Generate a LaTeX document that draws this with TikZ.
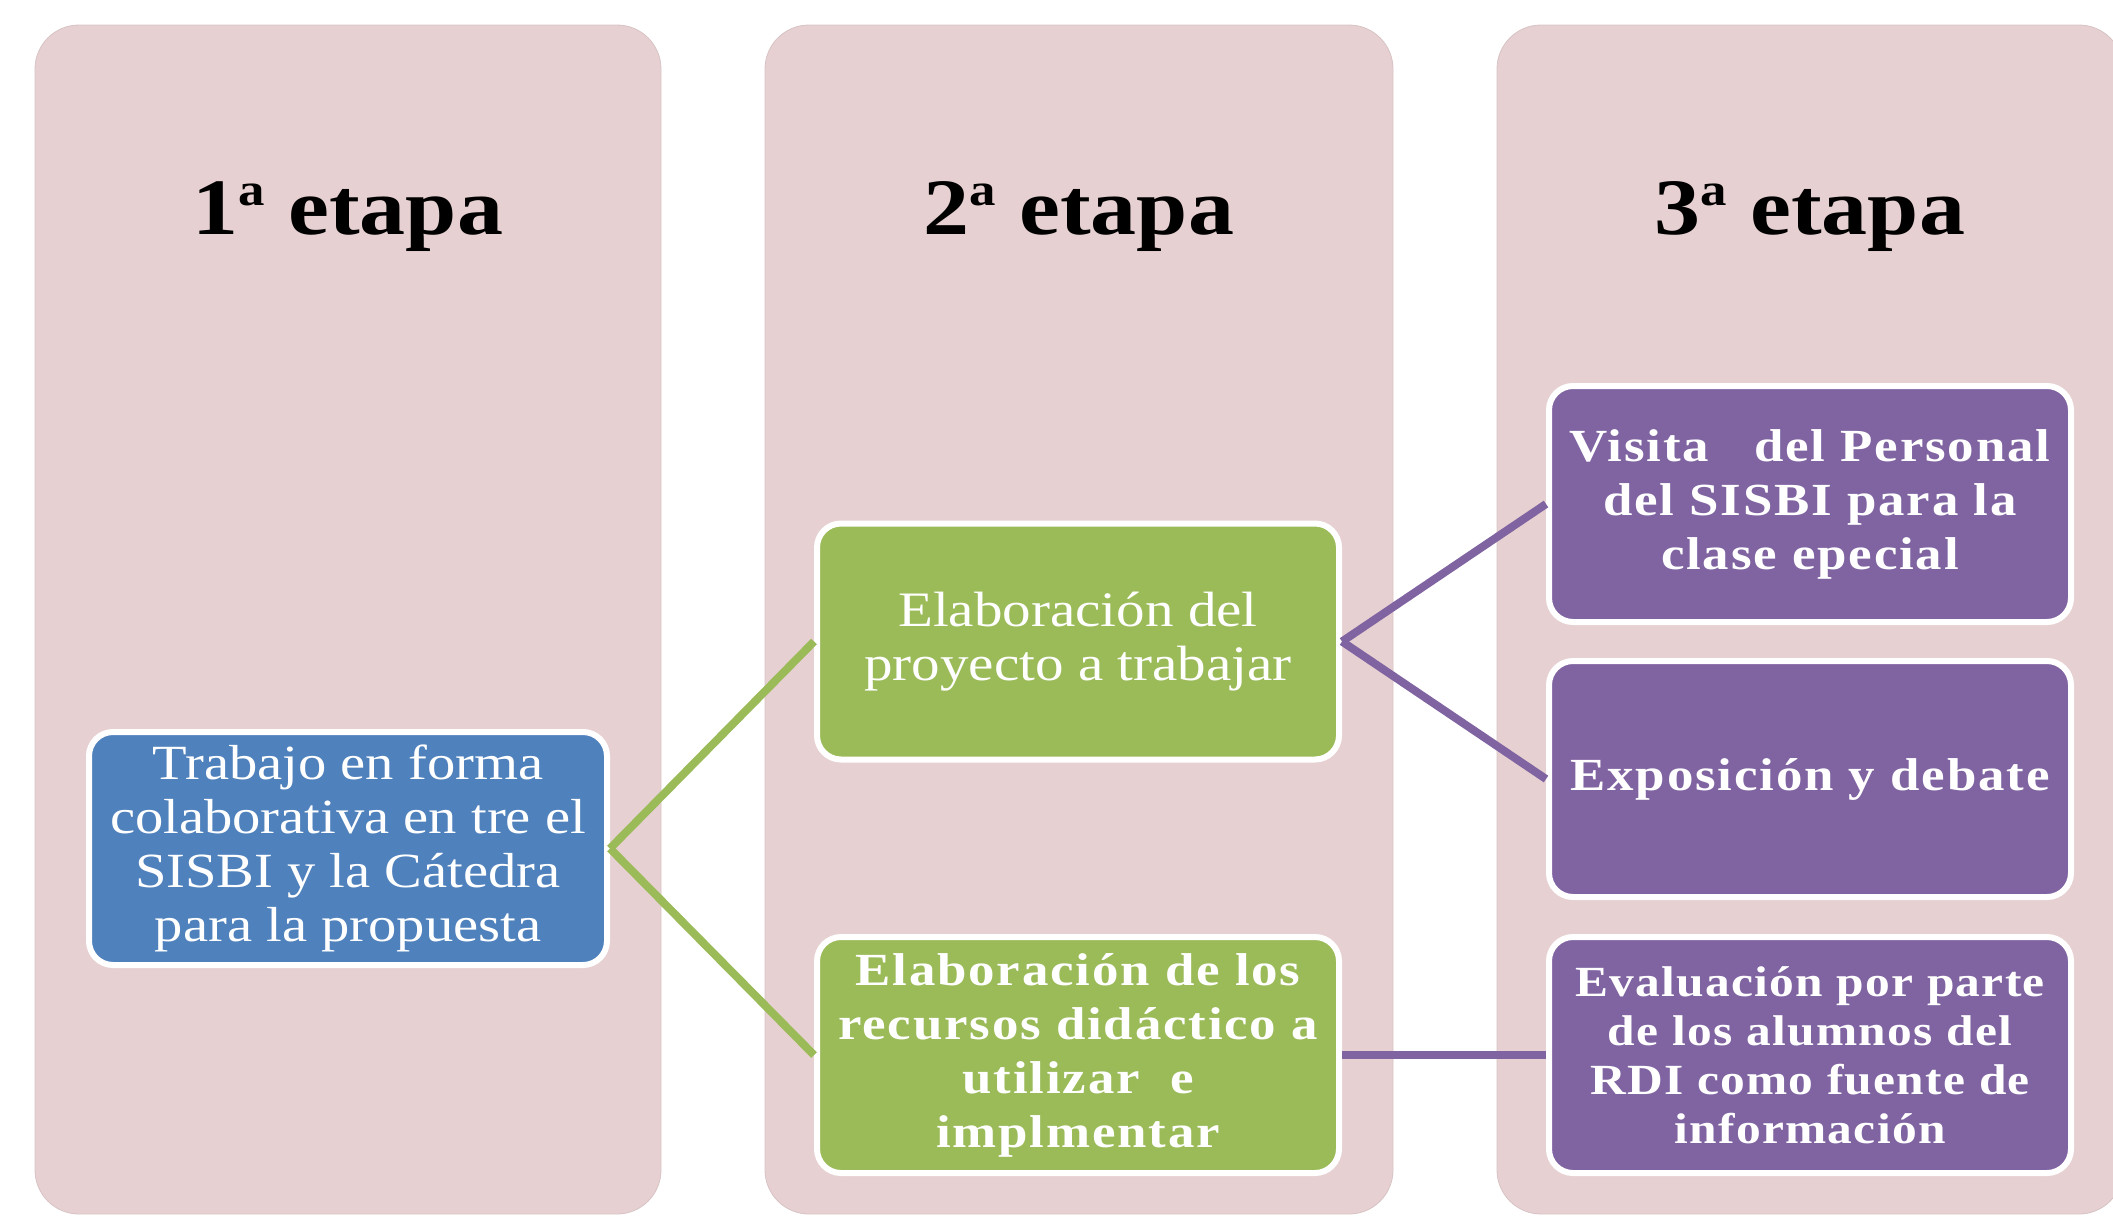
\documentclass[tikz,border=0pt]{standalone}
\usepackage{fontspec}
\setmainfont{Liberation Serif}[FakeStretch=1.15]
\definecolor{colfill}{RGB}{231,208,209}
\definecolor{coledge}{RGB}{215,195,196}
\definecolor{obblue}{RGB}{79,129,189}
\definecolor{obgreen}{RGB}{155,187,89}
\definecolor{obpurple}{RGB}{128,100,162}
\tikzset{
  column/.style={fill=colfill, draw=coledge, line width=0.4pt, rounded corners=22pt},
  title/.style={anchor=base, font=\bfseries\fontsize{40}{40}\selectfont},
  boxbase/.style={draw=white, line width=3pt, rounded corners=12pt, text=white,
    align=center, inner sep=2pt, minimum width=261pt, minimum height=118pt},
  bluebox/.style={boxbase, fill=obblue, minimum width=259pt, minimum height=116.5pt,
    font=\fontsize{24.6}{27}\selectfont},
  greenbox/.style={boxbase, fill=obgreen},
  purplebox/.style={boxbase, fill=obpurple},
  regtext/.style={font=\fontsize{24.8}{27}\selectfont},
  boldtext/.style={font=\bfseries\fontsize{23}{27}\selectfont\addfontfeatures{LetterSpace=4}},
  smallbold/.style={font=\bfseries\fontsize{21.5}{24.5}\selectfont\addfontfeatures{LetterSpace=3}},
  gline/.style={draw=obgreen, line width=4pt},
  pline/.style={draw=obpurple, line width=4pt}
}
\newcommand{\supa}{\raisebox{0.36em}{\fontsize{23}{23}\selectfont a}}
\begin{document}
\begin{tikzpicture}[x=0.5pt, y=-0.5pt]
\useasboundingbox (0,0) rectangle (2113,1216);
% columns
\path[column] (35,25) rectangle (661,1214);
\path[column] (765,25) rectangle (1393,1214);
\path[column] (1497,25) rectangle (2123,1214);
% titles
\node[title] (t1) at (348,234) {1\supa\ etapa};
\node[title] (t2) at (1079,234) {2\supa\ etapa};
\node[title] (t3) at (1810,234) {3\supa\ etapa};
% boxes
\node[bluebox] (b1) at (348,848.5) {Trabajo en forma\\colaborativa en tre el\\SISBI y la Cátedra\\para la propuesta};
\node[greenbox, regtext] (g1) at (1078,641.5) {Elaboración del\\proyecto a trabajar};
\node[greenbox, boldtext] (g2) at (1078,1055) {Elaboración de los\\recursos didáctico a\\utilizar\ \ e\\implmentar};
\node[purplebox, boldtext] (p1) at (1810,504) {Visita\ \ \ del Personal\\del SISBI para la\\clase epecial};
\node[purplebox, boldtext] (p2) at (1810,779) {Exposición y debate};
\node[purplebox, smallbold] (p3) at (1810,1055) {Evaluación por parte\\de los alumnos del\\RDI como fuente de\\información};
% connectors
\draw[gline] (b1.east) -- (g1.west);
\draw[gline] (b1.east) -- (g2.west);
\draw[pline] (g1.east) -- (p1.west);
\draw[pline] (g1.east) -- (p2.west);
\draw[pline] (g2.east) -- (p3.west);
\end{tikzpicture}
\end{document}
